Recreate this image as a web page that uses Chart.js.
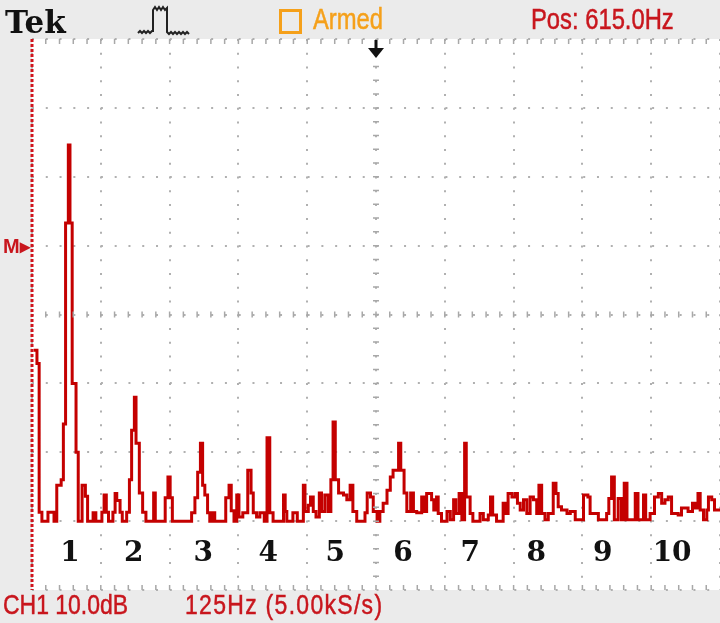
<!DOCTYPE html>
<html>
<head>
<meta charset="utf-8">
<title>FFT CH1</title>
<script src="https://cdn.jsdelivr.net/npm/chart.js@4.4.1/dist/chart.umd.min.js"></script>
<style>
  body { margin: 0; width: 720px; height: 623px; overflow: hidden; position: relative; background: #ebebeb; }
  #fft { position: absolute; left: 0; top: 0; }
  .txt { position: absolute; white-space: nowrap; line-height: 1; transform-origin: 0 0; }
  .tek { left: 5px; top: 7px; font: bold 31px "DejaVu Serif", serif; line-height: 31px; color: #111; }
  .scope { font-family: "Liberation Sans", Arial, sans-serif; transform: scaleX(0.82); -webkit-text-stroke: 0.5px; }
  .armed { left: 313px; top: 5px; font-size: 29px; line-height: 29px; color: #f5a01a; }
  .pos { left: 531px; top: 5px; font-size: 29px; line-height: 29px; color: #c8161d; }
  .ch1 { left: 3px; top: 591px; font-size: 28px; line-height: 28px; color: #c8161d; }
  .hz { left: 185px; top: 591px; font-size: 28px; line-height: 28px; color: #c8161d; letter-spacing: 1.6px; }
  .box { position: absolute; left: 279px; top: 9px; width: 17px; height: 19px; border: 3px solid #f5a01a; }
  .mark { left: 3px; top: 236px; font: bold 20px "Liberation Sans", Arial, sans-serif; line-height: 20px; color: #c8161d; }
  svg { position: absolute; }
</style>
</head>
<body>
<canvas id="fft" width="720" height="623"></canvas>

<div class="txt tek">Tek</div>
<svg style="left:136px;top:4px" width="58" height="34">
  <polyline fill="none" stroke="#222" stroke-width="2"
    points="2,29 4,27 6,29 8,27 10,29 12,27 14,29 16,27 17,27 17,6 19,3 21,6 23,3 25,6 27,3 29,6 31,4 31,28 33,30 35,28 37,30 39,28 41,30 43,28 45,30 47,28 49,30 51,28 53,30"/>
</svg>
<div class="box"></div>
<div class="txt scope armed">Armed</div>
<div class="txt scope pos">Pos: 615.0Hz</div>
<svg style="left:366px;top:40px" width="20" height="19">
  <rect x="8.5" y="0" width="3" height="10" fill="#111"/>
  <polygon points="2,8 18,8 10,18" fill="#111"/>
</svg>
<div class="txt mark">M&#9656;</div>
<div class="txt scope ch1">CH1 10.0dB</div>
<div class="txt scope hz">125Hz (5.00kS/s)</div>

<script>
// FFT of CH1, 125 Hz/div, 10 dB/div
let freqHz = [3, 9, 13, 18, 29, 40, 45, 53, 57, 61, 66, 69, 73, 80, 84, 91, 97, 101, 111, 116,
    127, 131, 135, 139, 147, 151, 154, 160, 164, 172, 177, 181, 186, 189, 195, 201, 207, 221, 224, 242,
    247, 251, 255, 290, 296, 301, 306, 310, 314, 319, 323, 327, 332, 352, 358, 362, 367, 372, 376, 383,
    392, 398, 402, 408, 414, 422, 427, 432, 438, 457, 460, 463, 474, 482, 493, 496, 502, 506, 511, 516,
    522, 526, 532, 538, 543, 547, 551, 557, 566, 572, 578, 583, 590, 605, 609, 615, 620, 627, 632, 638,
    645, 651, 656, 666, 670, 676, 681, 688, 693, 699, 708, 712, 717, 726, 730, 735, 738, 744, 754, 760,
    766, 770, 776, 781, 786, 789, 796, 801, 814, 820, 829, 833, 837, 844, 856, 861, 865, 872, 878, 882,
    887, 893, 899, 905, 911, 917, 921, 926, 932, 938, 947, 952, 956, 962, 972, 978, 987, 1002, 1010, 1014,
    1029, 1044, 1048, 1053, 1058, 1065, 1071, 1076, 1081, 1096, 1101, 1111, 1115, 1123, 1131, 1138, 1144, 1150, 1156, 1162,
    1174, 1180, 1192, 1200, 1205, 1210, 1214, 1220, 1226, 1229, 1235, 1240, 1250];

let levelDb = [34.8, 32.9, 11.3, 10, 11.3, 10, 15.2, 16.0, 24.1, 53.3, 64.6, 53.3, 30.0, 20.0, 10, 15.2, 13.6, 10, 11.2, 10,
    11.3, 13.8, 11.3, 10, 11.3, 14.0, 13.0, 11.3, 10, 11.3, 16.0, 23.2, 28.0, 21.3, 14.1, 11.3, 10, 14.1, 10, 13.4,
    16.4, 13.4, 10, 11.2, 13.4, 17.1, 21.3, 15.2, 13.8, 11.2, 10, 11.2, 10, 13.4, 15.2, 11.5, 10, 13.8, 10.6, 11.2,
    17.4, 14.1, 11.2, 10.6, 11.2, 10, 22.1, 11.2, 10, 13.8, 11.4, 10, 11.2, 10, 15.2, 11.4, 12.3, 13.5, 11.4, 10.6,
    14.1, 11.4, 13.8, 11.4, 16.0, 24.4, 16.0, 14.1, 13.8, 13.1, 15.2, 11.4, 10, 11.2, 14.1, 13.5, 11.4, 10, 11.4, 12.6,
    14.5, 16.4, 17.4, 21.3, 17.4, 14.1, 11.4, 14.1, 11.4, 11.2, 13.5, 11.4, 14.0, 13.1, 11.6, 13.5, 11.1, 10, 11.4, 10.2,
    13.1, 11.1, 14.0, 10.2, 21.3, 13.5, 11.1, 10, 11.1, 10.2, 10.9, 13.5, 10.9, 10, 12.6, 11.1, 14.0, 13.5, 14.0, 12.6,
    11.6, 13.1, 11.1, 13.5, 13.1, 11.1, 15.2, 11.1, 10.2, 11.1, 15.5, 14.0, 12.1, 11.6, 11.1, 11.4, 10.2, 13.8, 13.5, 11.1,
    10.2, 11.1, 13.3, 16.4, 10.2, 13.3, 10.2, 15.5, 10.2, 14.0, 10.2, 13.8, 10.2, 11.1, 13.5, 14.0, 12.6, 13.1, 13.5, 11.1,
    10.9, 11.9, 11.4, 12.6, 11.9, 14.0, 11.6, 10.2, 11.6, 13.5, 13.1, 11.6, 11.6];

// harmonic numbers written under the peaks
let harmonicLabels = ['1', '2', '3', '4', '5', '6', '7', '8', '9', '10'];
let harmonicHz = [69, 185, 311, 429, 551, 674, 796, 916, 1037, 1163];

let spanHz = 1250;   // 10 div x 125 Hz
let rangeDb = 80;    // 8 div x 10 dB

let scopeDecor = {
    id: 'scopeDecor',
    beforeDraw: function (chart) {
        let a = chart.chartArea;
        let ctx = chart.ctx;
        ctx.save();
        ctx.fillStyle = '#ffffff';
        ctx.fillRect(a.left, a.top, a.right - a.left, a.bottom - a.top);
        ctx.restore();
    },
    afterDatasetsDraw: function (chart) {
        let ctx = chart.ctx;
        let a = chart.chartArea;
        let xs = chart.scales.x;
        let ys = chart.scales.y;
        ctx.save();

        // minor ticks on top and bottom edges, and on the centre cross
        let stepX = (a.right - a.left) / 50;
        let stepY = (a.bottom - a.top) / 40;
        let cx = xs.getPixelForValue(spanHz / 2);
        let cy = ys.getPixelForValue(rangeDb / 2);
        ctx.strokeStyle = '#a8a8a8';
        ctx.lineWidth = 1.5;
        ctx.beginPath();
        for (let i = 1; i < 50; i++) {
            let x = a.left + i * stepX;
            ctx.moveTo(x, a.top); ctx.lineTo(x, a.top + 5);
            ctx.moveTo(x, a.bottom); ctx.lineTo(x, a.bottom - 5);
            ctx.moveTo(x, cy - 3); ctx.lineTo(x, cy + 3);
        }
        for (let j = 1; j < 40; j++) {
            let y = a.top + j * stepY;
            ctx.moveTo(cx - 3, y); ctx.lineTo(cx + 3, y);
        }
        ctx.stroke();

        // red reference edge on the left
        ctx.strokeStyle = '#d0141c';
        ctx.lineWidth = 3;
        ctx.setLineDash([3, 2]);
        ctx.beginPath();
        ctx.moveTo(a.left, a.top);
        ctx.lineTo(a.left, a.bottom);
        ctx.stroke();
        ctx.setLineDash([]);

        // harmonic numbers
        ctx.fillStyle = '#111111';
        ctx.font = 'bold 28px "DejaVu Serif", serif';
        ctx.textAlign = 'center';
        ctx.textBaseline = 'alphabetic';
        let yLabel = ys.getPixelForValue(4.2);
        harmonicLabels.forEach(function (lbl, i) {
            ctx.fillText(lbl, xs.getPixelForValue(harmonicHz[i]), yLabel);
        });
        ctx.restore();
    }
};

let points = freqHz.map(function (f, i) {
    return { x: f, y: levelDb[i] };
});

new Chart(document.getElementById('fft'), {
    type: 'line',
    data: {
        datasets: [{
            label: 'CH1 FFT',
            data: points,
            stepped: 'before',
            borderColor: '#c40000',
            borderWidth: 3,
            pointRadius: 0,
            fill: false
        }]
    },
    options: {
        responsive: false,
        animation: false,
        devicePixelRatio: 1,
        layout: { padding: { left: 32, right: 0, top: 39, bottom: 33 } },
        plugins: {
            legend: { display: false },
            tooltip: { enabled: false }
        },
        scales: {
            x: {
                type: 'linear',
                min: 0,
                max: spanHz,
                ticks: { display: false, stepSize: 125 },
                grid: { color: '#b0b0b0', lineWidth: 2, drawTicks: false },
                border: { display: false, dash: [2, 11.76] }
            },
            y: {
                min: 0,
                max: rangeDb,
                ticks: { display: false, stepSize: 10 },
                grid: { color: '#b0b0b0', lineWidth: 2, drawTicks: false },
                border: { display: false, dash: [2, 11.78] }
            }
        }
    },
    plugins: [scopeDecor]
});
</script>
</body>
</html>
